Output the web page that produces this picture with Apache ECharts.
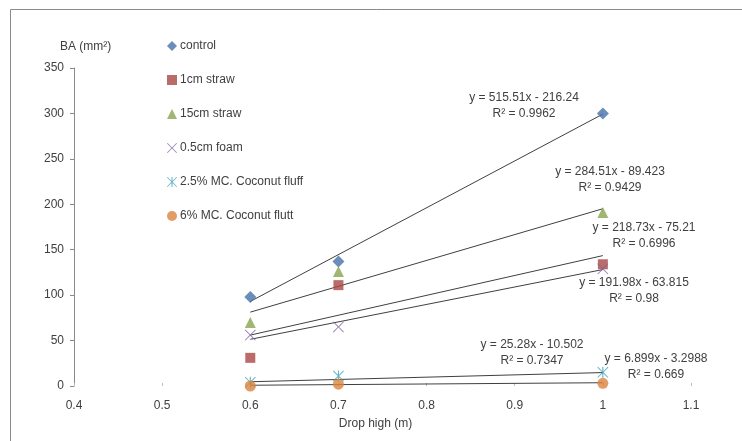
<!DOCTYPE html>
<html><head><meta charset="utf-8">
<script src="https://cdn.jsdelivr.net/npm/echarts@6/dist/echarts.min.js"></script>
<style>html,body{margin:0;padding:0;background:#fff}#c{width:742px;height:441px}</style>
</head><body><div id="c"></div>
<script>
// ---- data ----
var xValues = [0.6, 0.7, 1];
var seriesNames = ['control', '1cm straw', '15cm straw', '0.5cm foam', '2.5% MC. Coconut fluff', '6% MC. Coconut flutt'];
var controlValues = [98, 137, 300];
var straw1Values = [31, 111, 134];
var straw15Values = [70, 126, 191];
var foamValues = [56, 65, 129];
var coco25Values = [4, 11, 15];
var coco6Values = [0, 2, 3];
// trendline coefficients [slope, intercept] as printed
var trendSlopes = [515.51, 284.51, 218.73, 191.98, 25.28, 6.899];
var trendIntercepts = [-216.24, -89.423, -75.21, -63.815, -10.502, -3.2988];
var trendR2 = ['0.9962', '0.9429', '0.6996', '0.98', '0.7347', '0.669'];
var trendRange = [0.6, 1];
var xTicks = [0.4, 0.5, 0.6, 0.7, 0.8, 0.9, 1, 1.1];
var yTicks = [0, 50, 100, 150, 200, 250, 300, 350];

var allValues = [controlValues, straw1Values, straw15Values, foamValues, coco25Values, coco6Values];
var colors = ['#4572A7', '#AA4643', '#89A54E', '#7D62A0', '#3D9FB8', '#DB843D'];
var xPath = 'path://M0,0.6 L0.6,0 L5,4.4 L9.4,0 L10,0.6 L5.6,5 L10,9.4 L9.4,10 L5,5.6 L0.6,10 L0,9.4 L4.4,5 Z';
var starPath = 'path://M0,0.6 L0.6,0 L5,4.4 L9.4,0 L10,0.6 L5.6,5 L10,9.4 L9.4,10 L5,5.6 L0.6,10 L0,9.4 L4.4,5 Z M4.5,0 L5.5,0 L5.5,10 L4.5,10 Z';
var symbols = ['diamond', 'rect', 'triangle', xPath, starPath, 'circle'];
var symSizes = [12, 10, 11, 11, 11, 11];
var FONT = 'Liberation Sans';

var series = [];
for (var i = 0; i < 6; i++) {
  series.push({
    name: seriesNames[i], type: 'scatter', z: 5,
    symbol: symbols[i], symbolSize: symSizes[i],
    itemStyle: { color: colors[i] },
    data: xValues.map(function (x, j) { return [x, allValues[i][j]]; })
  });
}
for (var k = 0; k < 6; k++) {
  (function (k) {
    series.push({
      name: 'trend' + k, type: 'line', z: 3, silent: true, symbol: 'none',
      lineStyle: { color: '#404040', width: 1 },
      data: trendRange.map(function (x) { return [x, trendSlopes[k] * x + trendIntercepts[k]]; })
    });
  })(k);
}

function eqText(k) {
  var b = trendIntercepts[k];
  return 'y = ' + trendSlopes[k] + 'x ' + (b < 0 ? '- ' : '+ ') + Math.abs(b) + '\nR\u00b2 = ' + trendR2[k];
}
var labelPos = [[524, 97], [610, 171], [644, 227], [634, 282], [532, 344], [656, 358]];
var graphics = [{
  type: 'rect', shape: { x: 10.5, y: 9.5, width: 800, height: 500 },
  style: { fill: 'none', stroke: '#8a8a8a', lineWidth: 1 }, silent: true
}];
for (var m = 0; m < 6; m++) {
  graphics.push({
    type: 'text', x: labelPos[m][0], y: labelPos[m][1] - 7,
    style: { text: eqText(m), font: '12px "' + FONT + '"', fill: '#404040', align: 'center', verticalAlign: 'top', lineHeight: 16 }
  });
}

var chart = echarts.init(document.getElementById('c'), null, { renderer: 'canvas' });
chart.setOption({
  animation: false,
  backgroundColor: '#fff',
  textStyle: { fontFamily: FONT },
  grid: { left: 74, right: 51, top: 68, bottom: 55, containLabel: false },
  legend: {
    orient: 'vertical', left: 162, top: 35, itemGap: 22, itemWidth: 10, itemHeight: 10,
    data: seriesNames.map(function (n, i) { return { name: n, icon: symbols[i] }; }),
    textStyle: { fontSize: 12, color: '#404040', fontFamily: FONT, padding: [0, 0, 0, -2] }
  },
  xAxis: {
    type: 'value', min: xTicks[0], max: xTicks[xTicks.length - 1], interval: 0.1,
    name: 'Drop high (m)', nameLocation: 'middle', nameGap: 32,
    nameTextStyle: { fontSize: 12, color: '#404040', padding: [0, 14, 0, 0] },
    axisLine: { show: false },
    axisTick: { show: true, inside: true, length: 3, lineStyle: { color: '#bbbbbb' } },
    splitLine: { show: false },
    axisLabel: { fontSize: 12, color: '#404040', margin: 14, formatter: function (v) { return String(+v.toFixed(1)); } }
  },
  yAxis: {
    type: 'value', min: yTicks[0], max: yTicks[yTicks.length - 1], interval: 50,
    name: 'BA (mm\u00b2)', nameLocation: 'end', nameGap: 15,
    nameTextStyle: { fontSize: 12, color: '#404040', align: 'left', padding: [0, 0, 0, -14] },
    axisLine: { show: true, lineStyle: { color: '#8a8a8a' } },
    axisTick: { show: true, length: 4, lineStyle: { color: '#8a8a8a' } },
    splitLine: { show: false },
    axisLabel: { fontSize: 12, color: '#404040', margin: 10 }
  },
  graphic: graphics,
  series: series
});
</script></body></html>
